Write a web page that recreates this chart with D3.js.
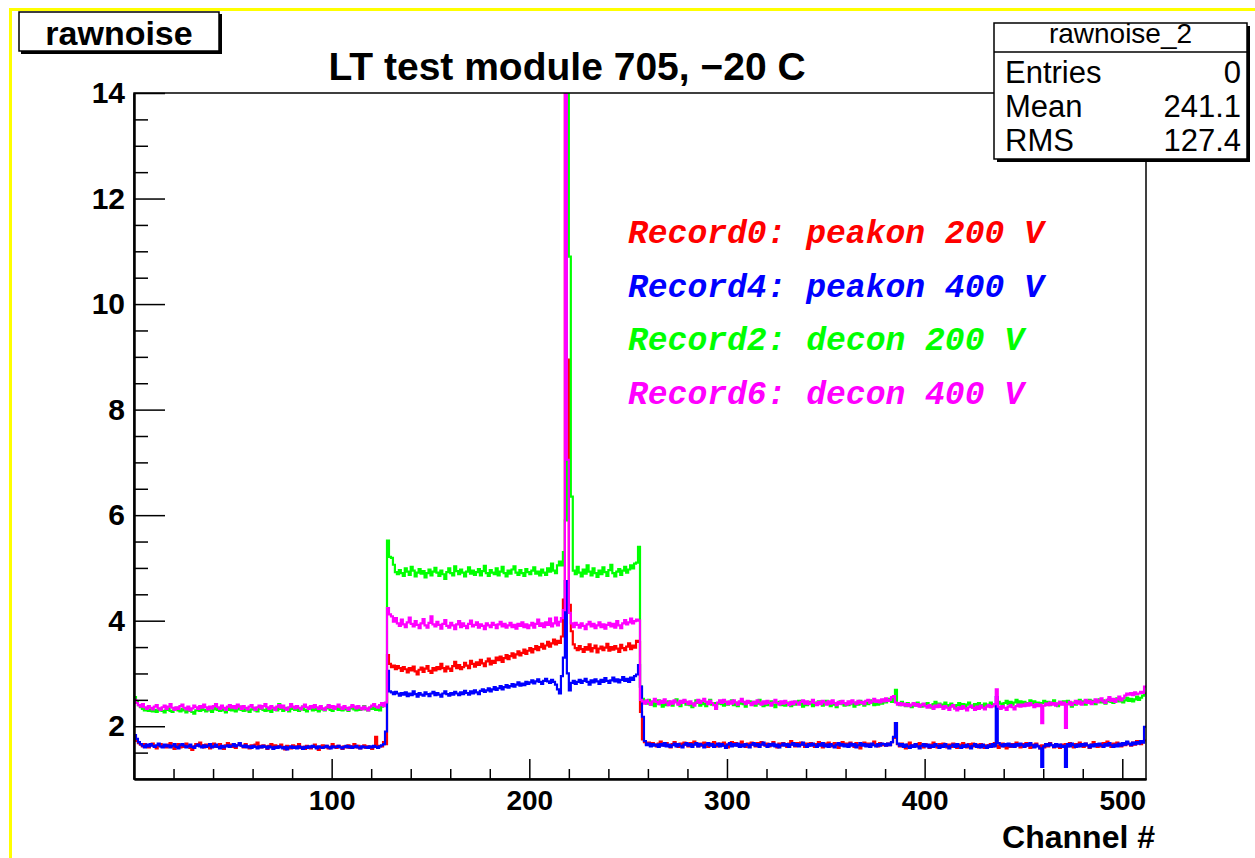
<!DOCTYPE html>
<html><head><meta charset="utf-8">
<script src="https://cdn.jsdelivr.net/npm/d3@7/dist/d3.min.js"></script>
<style>body{margin:0;background:#fff}svg{display:block}</style>
</head><body><svg id="c" width="1255" height="858"></svg>
<script>
// ---------------- DATA ----------------
const chartTitle = "LT test module 705, \u221220 C";
const histName = "rawnoise";
const xTitle = "Channel #";
const statsHeader = "rawnoise_2";
const statsNames = ["Entries", "Mean", "RMS"];
const statsValues = ["0", "241.1", "127.4"];
const xMajorTicks = [100, 200, 300, 400, 500];
const yMajorTicks = [2, 4, 6, 8, 10, 12, 14];
const legendLabels = ["Record0: peakon 200 V", "Record4: peakon 400 V", "Record2: decon 200 V", "Record6: decon 400 V"];
const legendColors = ["#ff0000", "#0000ff", "#00ff00", "#ff00ff"];

// Record0 (red) : channels 0-127, 128-255, 256-511
const redA = [1.80,1.72,1.68,1.65,1.62,1.66,1.63,1.60,1.64,1.67,1.62,1.58,1.63,1.66,1.61,1.64,
1.60,1.65,1.68,1.62,1.57,1.63,1.66,1.60,1.64,1.61,1.67,1.63,1.59,1.55,1.62,1.66,
1.63,1.69,1.64,1.60,1.65,1.62,1.58,1.64,1.67,1.61,1.63,1.66,1.60,1.57,1.64,1.68,
1.62,1.65,1.61,1.59,1.64,1.67,1.63,1.60,1.66,1.62,1.58,1.64,1.61,1.65,1.69,1.63,
1.60,1.64,1.62,1.57,1.63,1.66,1.61,1.64,1.59,1.62,1.65,1.60,1.56,1.63,1.61,1.58,
1.64,1.60,1.62,1.66,1.59,1.61,1.57,1.63,1.60,1.58,1.62,1.65,1.59,1.55,1.61,1.64,
1.60,1.63,1.58,1.61,1.66,1.62,1.59,1.63,1.61,1.57,1.62,1.60,1.64,1.59,1.62,1.66,
1.60,1.63,1.58,1.61,1.64,1.59,1.62,1.60,1.57,1.62,1.80,1.60,1.63,1.62,1.70,1.66];
const redB = [3.35,3.18,3.12,3.15,3.08,3.14,3.10,3.05,3.12,3.08,3.02,3.10,3.06,3.13,3.04,2.98,
3.07,3.11,3.03,3.09,3.14,3.05,3.01,3.10,3.06,3.12,3.08,3.18,3.10,3.04,3.13,3.09,
3.05,3.14,3.22,3.10,3.16,3.08,3.12,3.20,3.15,3.10,3.24,3.18,3.13,3.21,3.16,3.26,
3.19,3.14,3.23,3.28,3.17,3.24,3.20,3.30,3.25,3.32,3.22,3.29,3.35,3.27,3.33,3.38,
3.30,3.36,3.42,3.34,3.39,3.45,3.37,3.43,3.48,3.40,3.46,3.52,3.44,3.50,3.56,3.47,
3.53,3.60,3.51,3.57,3.64,3.55,3.62,3.58,3.70,4.40,14.8,8.95,4.30,3.80,3.55,3.48,
3.44,3.52,3.46,3.41,3.50,3.45,3.55,3.42,3.48,3.53,3.40,3.47,3.51,3.44,3.49,3.56,
3.43,3.50,3.45,3.52,3.47,3.41,3.54,3.48,3.44,3.51,3.57,3.46,3.53,3.49,3.62,3.60];
const redC = [2.27,1.75,1.70,1.66,1.69,1.64,1.68,1.65,1.62,1.67,1.71,1.65,1.63,1.68,1.64,1.60,
1.66,1.70,1.64,1.61,1.67,1.63,1.69,1.65,1.62,1.68,1.64,1.71,1.66,1.62,1.67,1.63,
1.69,1.65,1.61,1.67,1.64,1.70,1.66,1.62,1.67,1.63,1.69,1.65,1.60,1.66,1.70,1.64,
1.68,1.63,1.66,1.71,1.65,1.61,1.67,1.64,1.69,1.65,1.62,1.68,1.64,1.70,1.66,1.63,
1.67,1.62,1.66,1.70,1.64,1.60,1.67,1.63,1.68,1.64,1.61,1.67,1.72,1.65,1.62,1.68,
1.64,1.69,1.65,1.61,1.67,1.63,1.68,1.65,1.61,1.66,1.70,1.64,1.60,1.67,1.63,1.69,
1.65,1.62,1.68,1.64,1.59,1.66,1.70,1.64,1.67,1.63,1.69,1.65,1.61,1.68,1.64,1.58,
1.65,1.69,1.63,1.67,1.62,1.66,1.71,1.65,1.62,1.68,1.64,1.66,1.63,1.67,1.64,1.70,
1.78,2.06,1.66,1.62,1.67,1.63,1.58,1.65,1.69,1.64,1.61,1.66,1.62,1.68,1.64,1.60,
1.66,1.63,1.59,1.65,1.69,1.63,1.60,1.66,1.62,1.67,1.64,1.60,1.65,1.61,1.67,1.63,
1.59,1.65,1.62,1.68,1.64,1.60,1.66,1.63,1.67,1.62,1.65,1.60,1.66,1.63,1.59,1.64,
1.61,1.66,1.62,1.68,1.64,1.59,1.63,1.67,1.62,1.58,1.65,1.61,1.66,1.62,1.69,1.64,
1.60,1.66,1.62,1.68,1.63,1.59,1.65,1.61,1.67,1.63,1.58,1.64,1.60,1.66,1.62,1.68,
1.64,1.60,1.66,1.62,1.59,1.65,1.61,1.66,1.62,1.68,1.64,1.60,1.66,1.62,1.69,1.65,
1.61,1.67,1.63,1.59,1.65,1.70,1.64,1.61,1.66,1.62,1.68,1.64,1.71,1.65,1.61,1.67,
1.63,1.69,1.65,1.62,1.68,1.64,1.70,1.66,1.63,1.69,1.65,1.72,1.68,1.66,1.70,1.73];

// Record4 (blue)
const blueA = [1.83,1.76,1.70,1.66,1.63,1.60,1.65,1.62,1.66,1.63,1.61,1.64,1.67,1.62,1.60,1.65,
1.62,1.64,1.60,1.63,1.66,1.61,1.58,1.64,1.66,1.63,1.60,1.62,1.65,1.61,1.59,1.63,
1.65,1.62,1.60,1.64,1.61,1.63,1.66,1.60,1.62,1.65,1.61,1.58,1.63,1.60,1.62,1.64,
1.61,1.63,1.66,1.62,1.64,1.68,1.63,1.61,1.64,1.60,1.62,1.59,1.63,1.61,1.58,1.62,
1.60,1.63,1.61,1.58,1.62,1.60,1.57,1.61,1.59,1.62,1.60,1.58,1.61,1.56,1.60,1.62,
1.59,1.61,1.58,1.62,1.60,1.57,1.61,1.59,1.62,1.60,1.63,1.61,1.58,1.62,1.60,1.59,
1.61,1.63,1.60,1.58,1.62,1.60,1.61,1.63,1.60,1.58,1.61,1.63,1.60,1.62,1.59,1.61,
1.63,1.60,1.58,1.62,1.60,1.61,1.59,1.62,1.60,1.63,1.61,1.59,1.62,1.64,1.66,1.90];
const blueB = [3.05,2.66,2.64,2.61,2.65,2.62,2.58,2.63,2.60,2.64,2.57,2.62,2.59,2.66,2.61,2.56,
2.63,2.60,2.58,2.64,2.61,2.57,2.62,2.65,2.59,2.63,2.60,2.56,2.62,2.66,2.61,2.58,
2.63,2.60,2.65,2.62,2.59,2.64,2.61,2.67,2.63,2.60,2.66,2.62,2.68,2.64,2.61,2.67,
2.70,2.65,2.68,2.72,2.66,2.70,2.74,2.69,2.72,2.76,2.70,2.74,2.78,2.73,2.76,2.80,
2.75,2.79,2.83,2.77,2.81,2.78,2.84,2.80,2.83,2.87,2.81,2.85,2.89,2.84,2.80,2.86,
2.90,2.85,2.82,2.88,2.84,2.79,2.70,2.62,2.95,3.30,4.75,3.00,2.68,2.82,2.86,2.80,
2.84,2.88,2.82,2.86,2.90,2.84,2.79,2.87,2.83,2.89,2.85,2.80,2.88,2.84,2.91,2.86,
2.82,2.87,2.92,2.85,2.89,2.83,2.88,2.93,2.86,2.90,2.84,2.92,2.88,2.95,2.98,3.16];
const blueC = [2.75,2.18,1.72,1.64,1.67,1.62,1.66,1.63,1.65,1.61,1.66,1.63,1.68,1.62,1.65,1.61,
1.64,1.67,1.62,1.66,1.63,1.60,1.65,1.68,1.63,1.66,1.61,1.65,1.68,1.62,1.66,1.64,
1.60,1.65,1.68,1.63,1.66,1.61,1.64,1.67,1.62,1.66,1.63,1.59,1.65,1.68,1.62,1.66,
1.63,1.67,1.61,1.65,1.62,1.66,1.64,1.60,1.65,1.68,1.63,1.66,1.61,1.65,1.69,1.64,
1.61,1.66,1.63,1.67,1.62,1.65,1.60,1.64,1.67,1.63,1.66,1.61,1.65,1.68,1.63,1.66,
1.62,1.65,1.69,1.64,1.61,1.66,1.63,1.67,1.64,1.61,1.66,1.63,1.68,1.62,1.65,1.61,
1.66,1.63,1.60,1.65,1.68,1.63,1.66,1.62,1.65,1.61,1.67,1.63,1.66,1.60,1.64,1.68,
1.63,1.66,1.62,1.65,1.61,1.67,1.64,1.62,1.66,1.63,1.67,1.66,1.63,1.67,1.64,1.70,
1.80,2.06,1.67,1.63,1.66,1.61,1.65,1.62,1.59,1.64,1.61,1.66,1.62,1.58,1.63,1.66,
1.62,1.65,1.60,1.64,1.61,1.66,1.63,1.59,1.64,1.61,1.66,1.62,1.58,1.63,1.65,1.61,
1.66,1.62,1.59,1.64,1.61,1.65,1.62,1.58,1.63,1.66,1.61,1.64,1.60,1.65,1.62,1.59,
1.64,1.61,1.66,1.62,2.55,1.68,1.65,1.62,1.66,1.63,1.67,1.62,1.65,1.61,1.66,1.63,
1.67,1.64,1.61,1.66,1.63,1.68,1.64,1.60,1.65,1.62,1.58,1.23,1.62,1.66,1.63,1.67,
1.64,1.61,1.66,1.62,1.65,1.61,1.63,1.23,1.66,1.62,1.67,1.64,1.61,1.65,1.62,1.66,
1.63,1.67,1.64,1.60,1.65,1.62,1.66,1.63,1.67,1.64,1.61,1.66,1.63,1.68,1.64,1.61,
1.65,1.62,1.67,1.63,1.68,1.65,1.71,1.67,1.64,1.69,1.66,1.70,1.67,1.72,1.69,1.99];

// Record2 (green)
const greenA = [2.55,2.46,2.40,2.36,2.33,2.30,2.34,2.29,2.32,2.28,2.31,2.27,2.30,2.33,2.29,2.26,
2.31,2.34,2.29,2.27,2.32,2.35,2.30,2.28,2.33,2.30,2.26,2.29,2.32,2.27,2.24,2.30,
2.33,2.29,2.35,2.31,2.28,2.33,2.30,2.27,2.32,2.36,2.31,2.29,2.34,2.30,2.26,2.31,
2.35,2.30,2.33,2.28,2.32,2.37,2.31,2.29,2.33,2.30,2.27,2.32,2.35,2.30,2.28,2.33,
2.36,2.31,2.29,2.34,2.30,2.27,2.32,2.35,2.30,2.42,2.33,2.29,2.35,2.31,2.28,2.33,
2.36,2.31,2.34,2.29,2.32,2.37,2.31,2.28,2.33,2.36,2.30,2.34,2.31,2.28,2.35,2.32,
2.30,2.34,2.38,2.31,2.29,2.33,2.36,2.31,2.34,2.30,2.35,2.32,2.29,2.34,2.37,2.32,
2.30,2.35,2.31,2.34,2.38,2.32,2.30,2.35,2.33,2.36,2.31,2.34,2.30,2.37,2.42,2.44];
const greenB = [5.52,5.21,5.19,5.06,4.92,4.88,4.96,4.90,4.85,4.99,4.93,4.87,5.02,4.95,4.84,4.91,
4.98,4.89,4.94,4.82,4.90,4.97,4.86,4.93,5.00,4.91,4.85,4.95,4.88,4.79,4.92,4.99,
4.90,4.86,5.03,4.94,4.88,4.97,4.91,4.84,4.93,5.01,4.89,4.95,4.87,4.92,4.98,4.86,
4.94,5.04,4.90,4.85,4.96,4.91,4.88,4.99,4.86,4.93,5.02,4.90,4.84,4.95,4.89,4.97,
5.03,4.91,4.87,4.96,4.90,4.85,4.98,4.92,4.88,4.95,5.01,4.89,4.93,4.86,4.97,4.91,
4.87,4.99,4.93,5.08,4.95,4.90,5.05,5.12,5.05,5.30,5.90,14.8,10.9,6.35,4.95,4.88,
5.02,4.91,4.84,4.97,4.89,5.05,4.93,4.86,4.99,4.90,4.83,4.95,4.88,5.01,4.92,4.85,
4.96,5.06,4.90,4.84,4.93,4.98,4.87,4.95,5.02,4.91,4.97,5.05,4.99,5.08,5.10,5.40];
const greenC = [2.75,2.52,2.47,2.43,2.50,2.41,2.46,2.38,2.44,2.49,2.42,2.37,2.45,2.40,2.47,2.43,
2.39,2.46,2.51,2.42,2.38,2.44,2.48,2.41,2.45,2.40,2.36,2.43,2.49,2.44,2.39,2.46,
2.42,2.38,2.45,2.50,2.41,2.44,2.37,2.43,2.47,2.42,2.39,2.46,2.41,2.44,2.49,2.40,
2.45,2.38,2.43,2.48,2.42,2.37,2.44,2.47,2.41,2.46,2.39,2.43,2.50,2.42,2.38,2.45,
2.40,2.44,2.47,2.41,2.36,2.43,2.46,2.40,2.44,2.39,2.45,2.42,2.38,2.46,2.41,2.44,
2.48,2.42,2.37,2.44,2.40,2.46,2.43,2.38,2.45,2.41,2.47,2.43,2.39,2.44,2.48,2.42,
2.38,2.45,2.41,2.36,2.43,2.47,2.42,2.39,2.44,2.40,2.46,2.42,2.37,2.45,2.41,2.48,
2.43,2.39,2.46,2.42,2.49,2.44,2.40,2.45,2.41,2.47,2.43,2.50,2.45,2.48,2.52,2.46,
2.55,2.69,2.44,2.40,2.46,2.42,2.38,2.44,2.40,2.36,2.43,2.39,2.45,2.41,2.37,2.42,
2.38,2.44,2.40,2.35,2.42,2.46,2.39,2.43,2.37,2.41,2.45,2.40,2.36,2.43,2.39,2.34,
2.40,2.44,2.38,2.42,2.36,2.41,2.45,2.39,2.35,2.42,2.38,2.44,2.40,2.36,2.43,2.39,
2.41,2.45,2.38,2.42,2.40,2.46,2.43,2.39,2.44,2.48,2.42,2.46,2.41,2.45,2.50,2.43,
2.47,2.42,2.46,2.40,2.44,2.49,2.43,2.47,2.41,2.45,2.40,2.44,2.48,2.42,2.46,2.40,
2.45,2.49,2.43,2.38,2.46,2.42,2.47,2.44,2.48,2.42,2.37,2.45,2.41,2.46,2.50,2.43,
2.47,2.41,2.45,2.50,2.44,2.48,2.42,2.46,2.51,2.45,2.49,2.43,2.47,2.52,2.46,2.44,
2.49,2.53,2.47,2.51,2.45,2.49,2.54,2.48,2.52,2.47,2.51,2.56,2.50,2.54,2.58,2.62];

// Record6 (magenta)
const magentaA = [2.50,2.44,2.40,2.37,2.42,2.36,2.33,2.38,2.35,2.32,2.37,2.40,2.34,2.31,2.36,2.39,
2.33,2.37,2.42,2.35,2.31,2.36,2.33,2.38,2.41,2.35,2.32,2.37,2.30,2.34,2.39,2.36,
2.33,2.38,2.35,2.41,2.36,2.32,2.37,2.34,2.38,2.42,2.36,2.33,2.39,2.35,2.31,2.37,
2.40,2.35,2.38,2.34,2.41,2.37,2.33,2.38,2.35,2.32,2.37,2.40,2.35,2.31,2.36,2.39,
2.34,2.38,2.42,2.36,2.33,2.38,2.35,2.31,2.37,2.40,2.35,2.39,2.34,2.31,2.36,2.42,
2.37,2.34,2.38,2.35,2.32,2.37,2.41,2.36,2.33,2.38,2.35,2.40,2.36,2.33,2.38,2.34,
2.31,2.36,2.40,2.35,2.38,2.33,2.37,2.41,2.36,2.33,2.38,2.35,2.31,2.36,2.40,2.37,
2.34,2.38,2.35,2.32,2.37,2.34,2.30,2.36,2.39,2.42,2.37,2.35,2.40,2.44,2.38,2.45];
const magentaB = [4.24,4.12,4.08,3.98,4.05,3.95,3.90,4.02,3.93,3.88,3.97,4.06,3.94,3.89,3.99,3.92,
3.86,3.95,4.03,3.91,3.87,3.96,4.08,3.93,3.89,3.98,3.92,3.85,3.94,4.01,3.90,3.87,
3.96,3.91,3.84,3.93,3.99,3.88,3.95,3.90,3.86,3.94,4.00,3.89,3.92,3.97,3.87,3.93,
3.90,3.84,3.95,3.91,3.88,3.96,3.92,3.86,3.93,3.98,3.89,3.94,3.87,3.91,3.96,3.88,
3.92,3.85,3.94,3.90,3.97,3.88,3.93,3.86,3.91,3.96,3.87,3.94,4.02,3.90,3.95,3.88,
3.97,3.92,4.04,3.89,3.95,4.06,3.91,3.98,4.05,4.20,14.8,7.05,4.15,3.95,3.88,3.96,
3.92,3.87,3.95,3.90,3.84,3.93,3.98,3.89,3.94,3.86,3.91,3.97,3.88,3.93,3.85,3.92,
3.96,3.89,3.94,3.87,3.99,3.91,3.86,3.95,4.01,3.93,3.97,4.04,3.95,3.99,4.02,4.00];
const magentaC = [2.50,2.47,2.43,2.49,2.45,2.41,2.47,2.52,2.46,2.42,2.48,2.44,2.51,2.45,2.40,2.47,
2.43,2.49,2.45,2.41,2.48,2.44,2.50,2.46,2.42,2.47,2.43,2.39,2.45,2.50,2.44,2.48,
2.52,2.46,2.42,2.48,2.44,2.40,2.33,2.45,2.49,2.44,2.50,2.46,2.42,2.47,2.43,2.49,
2.45,2.41,2.47,2.52,2.46,2.42,2.48,2.44,2.40,2.46,2.43,2.49,2.45,2.41,2.47,2.43,
2.48,2.44,2.39,2.45,2.50,2.44,2.41,2.47,2.43,2.48,2.44,2.40,2.46,2.42,2.47,2.45,
2.41,2.46,2.49,2.43,2.47,2.42,2.45,2.50,2.44,2.40,2.46,2.42,2.48,2.45,2.41,2.47,
2.43,2.49,2.44,2.40,2.46,2.43,2.48,2.44,2.41,2.47,2.43,2.49,2.45,2.42,2.48,2.44,
2.46,2.42,2.48,2.50,2.44,2.47,2.52,2.46,2.49,2.45,2.51,2.47,2.53,2.48,2.50,2.55,
2.57,2.45,2.41,2.44,2.40,2.43,2.39,2.42,2.38,2.41,2.44,2.39,2.42,2.37,2.40,2.43,
2.38,2.35,2.40,2.37,2.33,2.39,2.36,2.41,2.37,2.33,2.38,2.35,2.31,2.37,2.40,2.34,
2.30,2.36,2.33,2.38,2.34,2.30,2.36,2.39,2.35,2.31,2.37,2.33,2.39,2.35,2.32,2.37,
2.40,2.36,2.38,2.42,2.70,2.37,2.33,2.38,2.35,2.31,2.37,2.40,2.36,2.32,2.38,2.41,
2.37,2.41,2.38,2.43,2.39,2.44,2.40,2.36,2.42,2.38,2.41,2.06,2.39,2.43,2.40,2.45,
2.41,2.44,2.39,2.43,2.46,2.41,2.45,1.97,2.42,2.46,2.40,2.44,2.48,2.43,2.47,2.41,
2.45,2.50,2.44,2.48,2.42,2.46,2.51,2.45,2.49,2.53,2.47,2.44,2.50,2.55,2.48,2.52,
2.46,2.51,2.56,2.49,2.53,2.58,2.62,2.60,2.63,2.59,2.64,2.61,2.62,2.65,2.63,2.75];

const series = [
  {name: "Record0", color: "#ff0000", values: [...redA, ...redB, ...redC]},
  {name: "Record2", color: "#00ff00", values: [...greenA, ...greenB, ...greenC]},
  {name: "Record4", color: "#0000ff", values: [...blueA, ...blueB, ...blueC]},
  {name: "Record6", color: "#ff00ff", values: [...magentaA, ...magentaB, ...magentaC]}
];

// ---------------- DRAW ----------------
const svg = d3.select("#c");
const FONT = "'Liberation Sans', Arial, Helvetica, sans-serif";
const MONO = "'Liberation Mono', 'Courier New', monospace";
const L = 134, R = 1146, T = 93, B = 779;

svg.append("rect").attr("width", 1255).attr("height", 858).attr("fill", "#fff");
// canvas yellow border
svg.append("path").attr("d", "M10.5,858 V9.5 H1255").attr("fill", "none")
  .attr("stroke", "#ffff00").attr("stroke-width", 3);

const x = d3.scaleLinear().domain([0, 512]).range([L, R]);
const y = d3.scaleLinear().domain([1, 14]).range([B, T]);

svg.append("clipPath").attr("id", "clip").append("rect")
  .attr("x", L).attr("y", T).attr("width", R - L).attr("height", B - T);

const line = d3.line().x(d => x(d[0])).y(d => y(d[1])).curve(d3.curveStepAfter);
const gLines = svg.append("g").attr("clip-path", "url(#clip)");
series.forEach(s => {
  const pts = s.values.map((v, i) => [i, v]);
  pts.push([s.values.length, s.values[s.values.length - 1]]);
  gLines.append("path").attr("d", line(pts)).attr("fill", "none")
    .attr("stroke", s.color).attr("stroke-width", 2.2).attr("stroke-linejoin", "miter");
});

// frame
svg.append("rect").attr("x", L).attr("y", T).attr("width", R - L).attr("height", B - T)
  .attr("fill", "none").attr("stroke", "#000").attr("stroke-width", 1.5);

// axes
const xMinor = d3.range(20, 512, 20).filter(v => v % 100 !== 0);
const yMinor = d3.range(1.5, 14, 0.5).filter(v => v % 2 !== 0);
const gx = svg.append("g").attr("transform", `translate(0,${B})`);
gx.call(d3.axisBottom(x).tickValues(xMinor).tickSize(-10).tickFormat("").tickSizeOuter(0));
const gx2 = svg.append("g").attr("transform", `translate(0,${B})`);
gx2.call(d3.axisBottom(x).tickValues(xMajorTicks).tickSize(-20).tickPadding(11).tickSizeOuter(0).tickFormat(d3.format("d")));
const gy = svg.append("g").attr("transform", `translate(${L},0)`);
gy.call(d3.axisLeft(y).tickValues(yMinor).tickSize(-14).tickFormat("").tickSizeOuter(0));
const gy2 = svg.append("g").attr("transform", `translate(${L},0)`);
gy2.call(d3.axisLeft(y).tickValues(yMajorTicks).tickSize(-31).tickPadding(9).tickSizeOuter(0).tickFormat(d3.format("d")));
[gx, gx2, gy, gy2].forEach(g => {
  g.select(".domain").attr("stroke", "#000").attr("stroke-width", 2);
  g.selectAll(".tick line").attr("stroke", "#000").attr("stroke-width", 1.5);
  g.selectAll("text").attr("font-family", FONT).attr("font-weight", "bold")
    .attr("font-size", 29).attr("fill", "#000");
});
gx2.selectAll("text").attr("font-size", 28);
gy2.selectAll("text").attr("font-size", 30);

// axis title
svg.append("text").attr("x", 1155).attr("y", 848).attr("text-anchor", "end")
  .attr("font-family", FONT).attr("font-weight", "bold").attr("font-size", 32)
  .text(xTitle);

// title
svg.append("text").attr("x", 567).attr("y", 80).attr("text-anchor", "middle")
  .attr("font-family", FONT).attr("font-weight", "bold").attr("font-size", 39)
  .text(chartTitle);

// histogram name box
svg.append("rect").attr("x", 21).attr("y", 14).attr("width", 201).attr("height", 40).attr("fill", "#000");
svg.append("rect").attr("x", 19).attr("y", 12).attr("width", 200).attr("height", 39)
  .attr("fill", "#fff").attr("stroke", "#000").attr("stroke-width", 1.5);
svg.append("text").attr("x", 119).attr("y", 45).attr("text-anchor", "middle")
  .attr("font-family", FONT).attr("font-weight", "bold").attr("font-size", 34)
  .text(histName);

// stats box
const sx = 994, sy = 23, sw = 253, sh = 136;
svg.append("rect").attr("x", sx + 3).attr("y", sy + 3).attr("width", sw).attr("height", sh).attr("fill", "#000");
svg.append("rect").attr("x", sx).attr("y", sy).attr("width", sw).attr("height", sh)
  .attr("fill", "#fff").attr("stroke", "#000").attr("stroke-width", 1.5);
svg.append("line").attr("x1", sx).attr("x2", sx + sw).attr("y1", 52).attr("y2", 52)
  .attr("stroke", "#000").attr("stroke-width", 1.5);
svg.append("text").attr("x", sx + sw / 2).attr("y", 43).attr("text-anchor", "middle")
  .attr("font-family", FONT).attr("font-size", 28).text(statsHeader);
statsNames.forEach((n, i) => {
  const by = 83 + i * 34;
  svg.append("text").attr("x", sx + 11).attr("y", by).attr("font-family", FONT)
    .attr("font-size", 31).text(n);
  svg.append("text").attr("x", sx + sw - 6).attr("y", by).attr("text-anchor", "end")
    .attr("font-family", FONT).attr("font-size", 31).text(statsValues[i]);
});

// legend texts
legendLabels.forEach((t, i) => {
  svg.append("text").attr("x", 628).attr("y", 243 + i * 53.5)
    .attr("font-family", MONO).attr("font-weight", "bold").attr("font-style", "italic")
    .attr("font-size", 33).attr("fill", legendColors[i]).text(t);
});
</script>
</body></html>
